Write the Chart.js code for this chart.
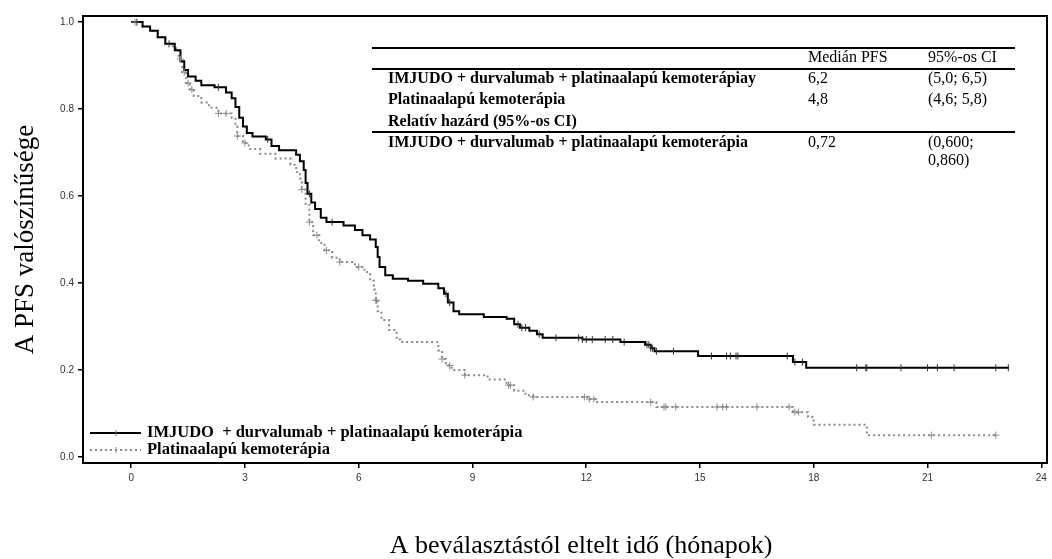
<!DOCTYPE html>
<html>
<head>
<meta charset="utf-8">
<title>PFS Kaplan-Meier</title>
<script src="https://cdn.jsdelivr.net/npm/chart.js@4.4.1/dist/chart.umd.min.js"></script>
<style>
  html, body { margin: 0; padding: 0; background: #fff; }
  canvas { display: block; }
</style>
</head>
<body>
<canvas id="km" width="1052" height="559"></canvas>
<script>
// IMJUDO + durvalumab + platinaalapú kemoterápia (step times, survival after step)
const armATimes = [0, 0.3, 0.5, 0.7, 0.9, 1.15, 1.3, 1.4, 1.5, 1.7, 1.85, 2.2, 2.5, 2.65, 2.75, 2.85, 2.95, 3.05, 3.2, 3.55, 3.7, 3.9,
  4.35, 4.45, 4.55, 4.6, 4.65, 4.75, 4.85, 5.0, 5.15, 5.6, 5.9, 6.1, 6.3, 6.45, 6.5, 6.55, 6.7, 6.9, 7.3, 7.7, 8.1, 8.25, 8.35,
  8.5, 8.65, 9.3, 9.9, 10.1, 10.25, 10.5, 10.7, 10.85, 11.9, 12.9, 13.55, 13.7, 13.8, 14.95, 17.45, 17.8, 23.15];
const armASurv = [1.0, 0.99, 0.98, 0.965, 0.95, 0.935, 0.91, 0.89, 0.875, 0.865, 0.855, 0.85, 0.838, 0.825, 0.805, 0.78, 0.76, 0.745, 0.737, 0.73, 0.715, 0.705,
  0.695, 0.68, 0.66, 0.63, 0.605, 0.585, 0.57, 0.55, 0.54, 0.532, 0.522, 0.51, 0.5, 0.483, 0.46, 0.437, 0.418, 0.41, 0.405, 0.398, 0.388, 0.375, 0.355,
  0.335, 0.328, 0.322, 0.318, 0.305, 0.297, 0.29, 0.282, 0.274, 0.27, 0.264, 0.258, 0.25, 0.243, 0.232, 0.218, 0.205, 0.205];
const armACensor = [0.15, 1.0, 2.3, 3.6, 4.7, 5.3, 8.3, 8.4, 10.2, 10.3, 10.4, 10.76, 11.2, 11.8, 11.9, 12.0, 12.16, 12.5, 12.7, 13.0,
  13.6, 13.65, 13.7, 13.75, 13.85, 14.3, 15.3, 15.7, 15.8, 15.95, 16.0, 17.3, 17.5, 17.7, 19.13, 19.37, 19.4, 20.3, 21.0, 21.26, 21.7, 22.8, 23.13];

// Platinaalapú kemoterápia
const armBTimes = [0, 0.3, 0.5, 0.7, 0.9, 1.1, 1.25, 1.35, 1.45, 1.55, 1.65, 1.85, 2.05, 2.3, 2.65, 2.75, 2.8, 2.95, 3.1, 3.4, 3.8, 4.2,
  4.35, 4.45, 4.5, 4.6, 4.7, 4.8, 4.95, 5.1, 5.3, 5.5, 5.9, 6.15, 6.3, 6.4, 6.45, 6.5, 6.6, 6.8, 7.0, 7.1, 8.1, 8.2, 8.3, 8.45,
  8.8, 9.4, 9.9, 10.1, 10.4, 10.6, 12.05, 12.25, 13.85, 17.45, 17.85, 18.0, 19.4, 22.8];
const armBSurv = [1.0, 0.99, 0.98, 0.965, 0.95, 0.94, 0.915, 0.885, 0.86, 0.845, 0.83, 0.815, 0.803, 0.79, 0.78, 0.76, 0.738, 0.722, 0.708, 0.697, 0.686, 0.672,
  0.655, 0.64, 0.615, 0.58, 0.54, 0.51, 0.492, 0.475, 0.458, 0.448, 0.437, 0.425, 0.405, 0.385, 0.36, 0.335, 0.315, 0.292, 0.27, 0.264, 0.245, 0.225, 0.21, 0.2,
  0.188, 0.178, 0.165, 0.152, 0.142, 0.138, 0.133, 0.126, 0.115, 0.103, 0.092, 0.074, 0.05, 0.05];
const armBCensor = [0.1, 1.3, 1.4, 1.5, 1.6, 2.3, 2.5, 2.8, 3.0, 4.5, 4.7, 4.9, 5.15, 5.5, 6.0, 6.45, 6.47, 8.2, 8.4, 8.8, 9.95, 10.0,
  10.6, 11.95, 12.08, 12.2, 13.7, 14.05, 14.1, 14.36, 15.45, 15.6, 15.7, 16.5, 17.35, 17.5, 17.6, 21.1, 22.8];

const xTicks = [0, 3, 6, 9, 12, 15, 18, 21, 24];
const yTicks = [0, 0.2, 0.4, 0.6, 0.8, 1.0];

const xTitle = 'A beválasztástól eltelt idő (hónapok)';
const legendLabels = ['IMJUDO  + durvalumab + platinaalapú kemoterápia', 'Platinaalapú kemoterápia'];
const tableHeader = ['Medián PFS', '95%-os CI'];
const tableRows = [
  ['IMJUDO + durvalumab + platinaalapú kemoterápiay', '6,2', '(5,0; 6,5)'],
  ['Platinaalapú kemoterápia', '4,8', '(4,6; 5,8)'],
];
const hazardTitle = 'Relatív hazárd (95%-os CI)';
const hazardRow = ['IMJUDO + durvalumab + platinaalapú kemoterápia', '0,72', '(0,600;', '0,860)'];

const GREY = '#8a8a8a';
const SERIF = '"Liberation Serif", "Times New Roman", serif';

function toPoints(times, surv) {
  return times.map((t, i) => ({ x: t, y: surv[i] }));
}

// survival value at time t for placing censor marks on the curve
function survAt(times, surv, t) {
  let s = surv[0];
  for (let i = 0; i < times.length; i++) {
    if (times[i] <= t) s = surv[i];
  }
  return s;
}

const boxAndText = {
  id: 'boxAndText',
  afterDraw(chart) {
    const ctx = chart.ctx;
    const a = chart.chartArea;
    ctx.save();
    // frame round the plot
    ctx.strokeStyle = '#000';
    ctx.lineWidth = 2;
    ctx.strokeRect(a.left, a.top, a.right - a.left, a.bottom - a.top);

    // x axis title (sits a bit right of the plot centre in the original)
    ctx.fillStyle = '#000';
    ctx.textAlign = 'center';
    ctx.textBaseline = 'alphabetic';
    ctx.font = '26px ' + SERIF;
    ctx.fillText(xTitle, 581, 553);

    // legend, bottom left inside the plot
    ctx.textBaseline = 'middle';
    ctx.textAlign = 'left';
    ctx.font = 'bold 16.5px ' + SERIF;
    const legY = [433, 450];
    ctx.lineWidth = 2;
    ctx.strokeStyle = '#000';
    ctx.beginPath(); ctx.moveTo(90, legY[0]); ctx.lineTo(141, legY[0]); ctx.stroke();
    ctx.strokeStyle = GREY;
    ctx.setLineDash([2, 3]);
    ctx.beginPath(); ctx.moveTo(90, legY[1]); ctx.lineTo(141, legY[1]); ctx.stroke();
    ctx.setLineDash([]);
    ctx.lineWidth = 1;
    ctx.beginPath(); ctx.moveTo(116, legY[1] - 3); ctx.lineTo(116, legY[1] + 3); ctx.stroke();
    ctx.strokeStyle = '#777';
    ctx.beginPath(); ctx.moveTo(116, legY[0] - 3); ctx.lineTo(116, legY[0] + 3); ctx.stroke();
    ctx.fillText(legendLabels[0], 147, legY[0]);
    ctx.fillText(legendLabels[1], 147, legY[1]);

    // summary table, top right
    const x0 = 372, x1 = 1015, cLabel = 388, cMed = 808, cCi = 928;
    ctx.strokeStyle = '#000';
    ctx.lineWidth = 2;
    [48, 69, 132].forEach(y => {
      ctx.beginPath(); ctx.moveTo(x0, y); ctx.lineTo(x1, y); ctx.stroke();
    });
    ctx.font = '16px ' + SERIF;
    ctx.fillText(tableHeader[0], cMed, 58);
    ctx.fillText(tableHeader[1], cCi, 58);
    const rowY = [79, 100];
    tableRows.forEach((r, i) => {
      ctx.font = 'bold 16px ' + SERIF;
      ctx.fillText(r[0], cLabel, rowY[i]);
      ctx.font = '16px ' + SERIF;
      ctx.fillText(r[1], cMed, rowY[i]);
      ctx.fillText(r[2], cCi, rowY[i]);
    });
    ctx.font = 'bold 16px ' + SERIF;
    ctx.fillText(hazardTitle, cLabel, 122);
    ctx.fillText(hazardRow[0], cLabel, 143);
    ctx.font = '16px ' + SERIF;
    ctx.fillText(hazardRow[1], cMed, 143);
    ctx.fillText(hazardRow[2], cCi, 143);
    ctx.fillText(hazardRow[3], cCi, 161);
    ctx.restore();
  }
};

new Chart(document.getElementById('km'), {
  type: 'line',
  data: {
    datasets: [
      {
        label: legendLabels[0],
        data: toPoints(armATimes, armASurv),
        stepped: 'before',
        borderColor: '#000',
        borderWidth: 2,
        pointRadius: 0,
        order: 1
      },
      {
        label: legendLabels[1],
        data: toPoints(armBTimes, armBSurv),
        stepped: 'before',
        borderColor: GREY,
        borderDash: [2, 3],
        borderWidth: 2,
        pointRadius: 0,
        order: 2
      },
      {
        label: 'censorA',
        data: armACensor.map(t => ({ x: t, y: survAt(armATimes, armASurv, t) })),
        showLine: false,
        pointStyle: 'line',
        rotation: 90,
        pointRadius: 3.5,
        borderColor: '#333',
        borderWidth: 1
      },
      {
        label: 'censorB',
        data: armBCensor.map(t => ({ x: t, y: survAt(armBTimes, armBSurv, t) })),
        showLine: false,
        pointStyle: 'cross',
        pointRadius: 3.5,
        borderColor: GREY,
        borderWidth: 1
      }
    ]
  },
  options: {
    responsive: false,
    animation: false,
    devicePixelRatio: 1,
    layout: { padding: { top: 16, right: 4, left: 0, bottom: 0 } },
    plugins: {
      legend: { display: false },
      tooltip: { enabled: false }
    },
    scales: {
      x: {
        type: 'linear',
        min: -1.27,
        max: 24.15,
        afterBuildTicks: (scale) => { scale.ticks = xTicks.map(v => ({ value: v })); },
        afterFit: (scale) => { scale.height = 96; },
        ticks: {
          color: '#333',
          font: { family: '"Liberation Sans", Arial, sans-serif', size: 10 },
          padding: 4,
          maxRotation: 0,
          callback: (v) => String(v)
        },
        grid: { display: true, drawOnChartArea: false, drawTicks: true, tickLength: 5, color: '#000', lineWidth: 1.5 },
        border: { display: true, color: '#000', width: 2 },
        title: { display: false }
      },
      y: {
        type: 'linear',
        min: -0.014,
        max: 1.014,
        afterBuildTicks: (scale) => { scale.ticks = yTicks.map(v => ({ value: v })); },
        afterFit: (scale) => { scale.width = 83; },
        ticks: {
          color: '#333',
          font: { family: '"Liberation Sans", Arial, sans-serif', size: 10 },
          padding: 4,
          callback: (v) => Number(v).toFixed(1)
        },
        grid: { display: true, drawOnChartArea: false, drawTicks: true, tickLength: 5, color: '#000', lineWidth: 1.5 },
        border: { display: true, color: '#000', width: 2 },
        title: {
          display: true,
          text: 'A PFS valószínűsége',
          color: '#000',
          font: { family: SERIF, size: 27 },
          padding: { top: 10, bottom: 0 }
        }
      }
    }
  },
  plugins: [boxAndText]
});
</script>
</body>
</html>
